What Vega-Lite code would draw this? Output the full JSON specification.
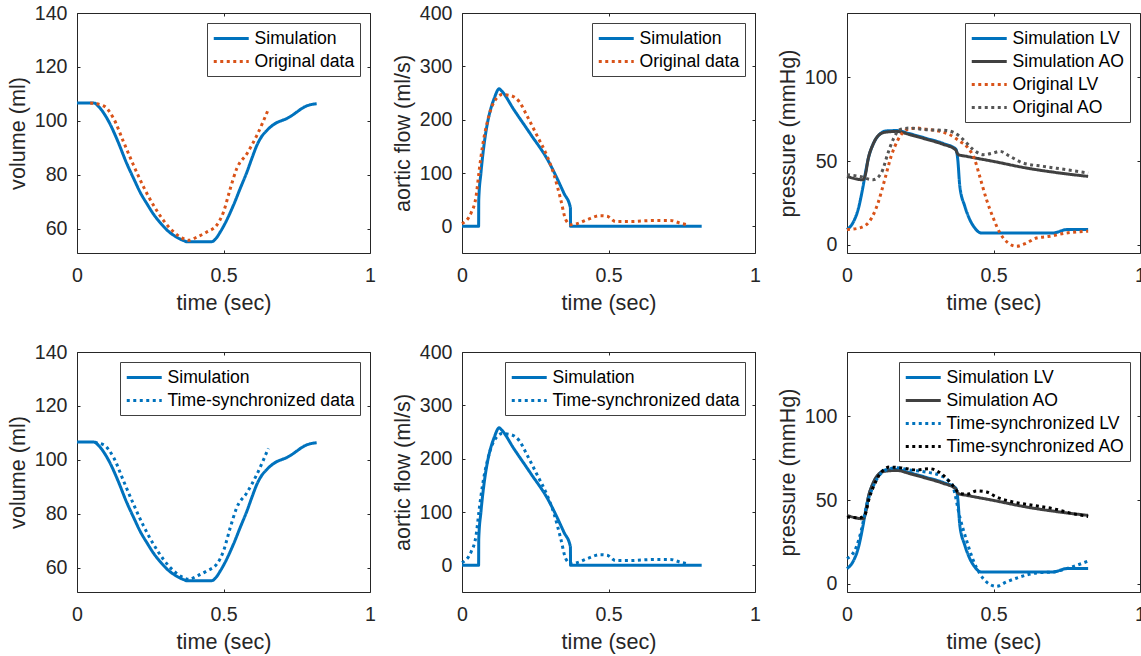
{
"$schema":"https://vega.github.io/schema/vega-lite/v6.json",
"background":"white",
"autosize":{"type":"pad"},
"padding":{"left":6,"top":2,"right":0,"bottom":0},
"columns":3,
"spacing":{"row":99,"column":92},
"bounds":"flush",
"datasets":{
"volume":[
{"t":0,"v":106.7,"s":"Simulation"},{"t":0.057,"v":106.7,"s":"Simulation"},{"t":0.075,"v":105.2,"s":"Simulation"},{"t":0.095,"v":102.3,"s":"Simulation"},{"t":0.114,"v":98.6,"s":"Simulation"},{"t":0.14,"v":92.3,"s":"Simulation"},{"t":0.17,"v":84.2,"s":"Simulation"},{"t":0.195,"v":78.3,"s":"Simulation"},{"t":0.216,"v":73.5,"s":"Simulation"},{"t":0.24,"v":69.1,"s":"Simulation"},{"t":0.261,"v":65.5,"s":"Simulation"},{"t":0.285,"v":62.2,"s":"Simulation"},{"t":0.307,"v":59.6,"s":"Simulation"},{"t":0.335,"v":57.3,"s":"Simulation"},{"t":0.364,"v":55.7,"s":"Simulation"},{"t":0.375,"v":55.3,"s":"Simulation"},{"t":0.46,"v":55.3,"s":"Simulation"},{"t":0.475,"v":56.6,"s":"Simulation"},{"t":0.489,"v":58.9,"s":"Simulation"},{"t":0.505,"v":62.0,"s":"Simulation"},{"t":0.534,"v":68.8,"s":"Simulation"},{"t":0.557,"v":75.0,"s":"Simulation"},{"t":0.58,"v":81.1,"s":"Simulation"},{"t":0.598,"v":86.5,"s":"Simulation"},{"t":0.614,"v":91.0,"s":"Simulation"},{"t":0.63,"v":94.2,"s":"Simulation"},{"t":0.648,"v":96.5,"s":"Simulation"},{"t":0.665,"v":98.2,"s":"Simulation"},{"t":0.682,"v":99.4,"s":"Simulation"},{"t":0.7,"v":100.2,"s":"Simulation"},{"t":0.716,"v":100.9,"s":"Simulation"},{"t":0.733,"v":102.0,"s":"Simulation"},{"t":0.75,"v":103.3,"s":"Simulation"},{"t":0.767,"v":104.6,"s":"Simulation"},{"t":0.784,"v":105.6,"s":"Simulation"},{"t":0.8,"v":106.1,"s":"Simulation"},{"t":0.818,"v":106.4,"s":"Simulation"},
{"t":0.045,"v":106.7,"s":"Original data"},{"t":0.091,"v":105.6,"s":"Original data"},{"t":0.125,"v":100.9,"s":"Original data"},{"t":0.159,"v":92.2,"s":"Original data"},{"t":0.193,"v":83.6,"s":"Original data"},{"t":0.227,"v":75.6,"s":"Original data"},{"t":0.261,"v":68.8,"s":"Original data"},{"t":0.295,"v":63.2,"s":"Original data"},{"t":0.33,"v":58.9,"s":"Original data"},{"t":0.358,"v":56.7,"s":"Original data"},{"t":0.381,"v":55.8,"s":"Original data"},{"t":0.409,"v":57.0,"s":"Original data"},{"t":0.443,"v":58.9,"s":"Original data"},{"t":0.477,"v":61.4,"s":"Original data"},{"t":0.5,"v":66.3,"s":"Original data"},{"t":0.523,"v":74.9,"s":"Original data"},{"t":0.545,"v":82.3,"s":"Original data"},{"t":0.58,"v":87.9,"s":"Original data"},{"t":0.614,"v":94.7,"s":"Original data"},{"t":0.653,"v":104.3,"s":"Original data"},
{"t":0.06,"v":106.5,"s":"Time-synchronized data"},{"t":0.091,"v":105.6,"s":"Time-synchronized data"},{"t":0.125,"v":100.9,"s":"Time-synchronized data"},{"t":0.159,"v":92.2,"s":"Time-synchronized data"},{"t":0.193,"v":83.6,"s":"Time-synchronized data"},{"t":0.227,"v":75.6,"s":"Time-synchronized data"},{"t":0.261,"v":68.8,"s":"Time-synchronized data"},{"t":0.295,"v":63.2,"s":"Time-synchronized data"},{"t":0.33,"v":58.9,"s":"Time-synchronized data"},{"t":0.358,"v":56.7,"s":"Time-synchronized data"},{"t":0.381,"v":55.8,"s":"Time-synchronized data"},{"t":0.409,"v":57.0,"s":"Time-synchronized data"},{"t":0.443,"v":58.9,"s":"Time-synchronized data"},{"t":0.477,"v":61.4,"s":"Time-synchronized data"},{"t":0.5,"v":66.3,"s":"Time-synchronized data"},{"t":0.523,"v":74.9,"s":"Time-synchronized data"},{"t":0.545,"v":82.3,"s":"Time-synchronized data"},{"t":0.58,"v":87.9,"s":"Time-synchronized data"},{"t":0.614,"v":94.7,"s":"Time-synchronized data"},{"t":0.653,"v":104.3,"s":"Time-synchronized data"}
],
"flow":[
{"t":0,"f":0,"s":"Simulation"},{"t":0.0567,"f":0,"s":"Simulation"},{"t":0.0572,"f":50,"s":"Simulation"},{"t":0.0646,"f":100,"s":"Simulation"},{"t":0.076,"f":156,"s":"Simulation"},{"t":0.087,"f":194,"s":"Simulation"},{"t":0.099,"f":222,"s":"Simulation"},{"t":0.11,"f":240,"s":"Simulation"},{"t":0.127,"f":258,"s":"Simulation"},{"t":0.135,"f":254,"s":"Simulation"},{"t":0.178,"f":218,"s":"Simulation"},{"t":0.235,"f":172,"s":"Simulation"},{"t":0.291,"f":126,"s":"Simulation"},{"t":0.348,"f":62,"s":"Simulation"},{"t":0.37,"f":35,"s":"Simulation"},{"t":0.3705,"f":0,"s":"Simulation"},{"t":0.818,"f":0,"s":"Simulation"},
{"t":0,"f":5,"s":"Original data"},{"t":0.031,"f":25,"s":"Original data"},{"t":0.048,"f":56,"s":"Original data"},{"t":0.059,"f":106,"s":"Original data"},{"t":0.07,"f":150,"s":"Original data"},{"t":0.087,"f":197,"s":"Original data"},{"t":0.11,"f":234,"s":"Original data"},{"t":0.138,"f":247,"s":"Original data"},{"t":0.167,"f":245,"s":"Original data"},{"t":0.195,"f":234,"s":"Original data"},{"t":0.223,"f":206,"s":"Original data"},{"t":0.257,"f":169,"s":"Original data"},{"t":0.291,"f":131,"s":"Original data"},{"t":0.314,"f":97,"s":"Original data"},{"t":0.337,"f":50,"s":"Original data"},{"t":0.354,"f":12.5,"s":"Original data"},{"t":0.371,"f":3,"s":"Original data"},{"t":0.393,"f":5,"s":"Original data"},{"t":0.427,"f":12.5,"s":"Original data"},{"t":0.473,"f":20,"s":"Original data"},{"t":0.495,"f":19,"s":"Original data"},{"t":0.524,"f":9,"s":"Original data"},{"t":0.575,"f":9,"s":"Original data"},{"t":0.654,"f":11,"s":"Original data"},{"t":0.711,"f":11,"s":"Original data"},{"t":0.745,"f":6,"s":"Original data"},{"t":0.773,"f":2.5,"s":"Original data"},
{"t":0,"f":5,"s":"Time-synchronized data"},{"t":0.031,"f":25,"s":"Time-synchronized data"},{"t":0.048,"f":56,"s":"Time-synchronized data"},{"t":0.059,"f":106,"s":"Time-synchronized data"},{"t":0.07,"f":150,"s":"Time-synchronized data"},{"t":0.087,"f":197,"s":"Time-synchronized data"},{"t":0.11,"f":234,"s":"Time-synchronized data"},{"t":0.138,"f":247,"s":"Time-synchronized data"},{"t":0.167,"f":245,"s":"Time-synchronized data"},{"t":0.195,"f":234,"s":"Time-synchronized data"},{"t":0.223,"f":206,"s":"Time-synchronized data"},{"t":0.257,"f":169,"s":"Time-synchronized data"},{"t":0.291,"f":131,"s":"Time-synchronized data"},{"t":0.314,"f":97,"s":"Time-synchronized data"},{"t":0.337,"f":50,"s":"Time-synchronized data"},{"t":0.354,"f":12.5,"s":"Time-synchronized data"},{"t":0.371,"f":3,"s":"Time-synchronized data"},{"t":0.393,"f":5,"s":"Time-synchronized data"},{"t":0.427,"f":12.5,"s":"Time-synchronized data"},{"t":0.473,"f":20,"s":"Time-synchronized data"},{"t":0.495,"f":19,"s":"Time-synchronized data"},{"t":0.524,"f":9,"s":"Time-synchronized data"},{"t":0.575,"f":9,"s":"Time-synchronized data"},{"t":0.654,"f":11,"s":"Time-synchronized data"},{"t":0.711,"f":11,"s":"Time-synchronized data"},{"t":0.745,"f":6,"s":"Time-synchronized data"},{"t":0.773,"f":2.5,"s":"Time-synchronized data"}
],
"pressure":[
{"t":0,"p":9,"s":"Simulation LV"},{"t":0.02,"p":13,"s":"Simulation LV"},{"t":0.038,"p":21,"s":"Simulation LV"},{"t":0.055,"p":35,"s":"Simulation LV"},{"t":0.063,"p":43,"s":"Simulation LV"},{"t":0.072,"p":51,"s":"Simulation LV"},{"t":0.089,"p":60,"s":"Simulation LV"},{"t":0.112,"p":66,"s":"Simulation LV"},{"t":0.134,"p":68,"s":"Simulation LV"},{"t":0.169,"p":68.2,"s":"Simulation LV"},{"t":0.214,"p":66.3,"s":"Simulation LV"},{"t":0.271,"p":63.5,"s":"Simulation LV"},{"t":0.328,"p":60.5,"s":"Simulation LV"},{"t":0.372,"p":57,"s":"Simulation LV"},{"t":0.378,"p":51,"s":"Simulation LV"},{"t":0.385,"p":35,"s":"Simulation LV"},{"t":0.402,"p":23,"s":"Simulation LV"},{"t":0.419,"p":15,"s":"Simulation LV"},{"t":0.436,"p":10,"s":"Simulation LV"},{"t":0.453,"p":7.2,"s":"Simulation LV"},{"t":0.46,"p":7,"s":"Simulation LV"},{"t":0.704,"p":7,"s":"Simulation LV"},{"t":0.75,"p":9,"s":"Simulation LV"},{"t":0.823,"p":9,"s":"Simulation LV"},
{"t":0,"p":40.8,"s":"Simulation AO"},{"t":0.055,"p":38.8,"s":"Simulation AO"},{"t":0.063,"p":42,"s":"Simulation AO"},{"t":0.072,"p":51,"s":"Simulation AO"},{"t":0.089,"p":60,"s":"Simulation AO"},{"t":0.112,"p":66,"s":"Simulation AO"},{"t":0.134,"p":67.3,"s":"Simulation AO"},{"t":0.169,"p":67.7,"s":"Simulation AO"},{"t":0.214,"p":65.8,"s":"Simulation AO"},{"t":0.271,"p":63,"s":"Simulation AO"},{"t":0.328,"p":60,"s":"Simulation AO"},{"t":0.37,"p":56.8,"s":"Simulation AO"},{"t":0.38,"p":53.8,"s":"Simulation AO"},{"t":0.408,"p":52.8,"s":"Simulation AO"},{"t":0.499,"p":49.8,"s":"Simulation AO"},{"t":0.613,"p":45.8,"s":"Simulation AO"},{"t":0.727,"p":42.8,"s":"Simulation AO"},{"t":0.823,"p":40.8,"s":"Simulation AO"},
{"t":0,"p":9,"s":"Original LV"},{"t":0.043,"p":10,"s":"Original LV"},{"t":0.077,"p":14,"s":"Original LV"},{"t":0.106,"p":25,"s":"Original LV"},{"t":0.129,"p":39,"s":"Original LV"},{"t":0.151,"p":53,"s":"Original LV"},{"t":0.174,"p":62.7,"s":"Original LV"},{"t":0.203,"p":68.7,"s":"Original LV"},{"t":0.237,"p":69.7,"s":"Original LV"},{"t":0.271,"p":69,"s":"Original LV"},{"t":0.317,"p":67.7,"s":"Original LV"},{"t":0.351,"p":65.7,"s":"Original LV"},{"t":0.385,"p":61.8,"s":"Original LV"},{"t":0.413,"p":57.8,"s":"Original LV"},{"t":0.436,"p":50.8,"s":"Original LV"},{"t":0.453,"p":40.8,"s":"Original LV"},{"t":0.476,"p":27,"s":"Original LV"},{"t":0.499,"p":16,"s":"Original LV"},{"t":0.522,"p":7,"s":"Original LV"},{"t":0.55,"p":1,"s":"Original LV"},{"t":0.579,"p":-1,"s":"Original LV"},{"t":0.613,"p":1,"s":"Original LV"},{"t":0.647,"p":4,"s":"Original LV"},{"t":0.692,"p":5,"s":"Original LV"},{"t":0.749,"p":7,"s":"Original LV"},{"t":0.823,"p":8,"s":"Original LV"},
{"t":0,"p":41.8,"s":"Original AO"},{"t":0.043,"p":40.8,"s":"Original AO"},{"t":0.089,"p":38.8,"s":"Original AO"},{"t":0.117,"p":42.8,"s":"Original AO"},{"t":0.14,"p":54.8,"s":"Original AO"},{"t":0.157,"p":62.7,"s":"Original AO"},{"t":0.18,"p":68.7,"s":"Original AO"},{"t":0.214,"p":69.7,"s":"Original AO"},{"t":0.271,"p":68.7,"s":"Original AO"},{"t":0.339,"p":68.3,"s":"Original AO"},{"t":0.385,"p":64.7,"s":"Original AO"},{"t":0.408,"p":60.8,"s":"Original AO"},{"t":0.431,"p":56.8,"s":"Original AO"},{"t":0.465,"p":53.8,"s":"Original AO"},{"t":0.499,"p":54.8,"s":"Original AO"},{"t":0.522,"p":55.8,"s":"Original AO"},{"t":0.556,"p":52.8,"s":"Original AO"},{"t":0.601,"p":48.8,"s":"Original AO"},{"t":0.67,"p":46.8,"s":"Original AO"},{"t":0.749,"p":44.8,"s":"Original AO"},{"t":0.823,"p":42.8,"s":"Original AO"},
{"t":0,"p":15,"s":"Time-synchronized LV"},{"t":0.032,"p":22,"s":"Time-synchronized LV"},{"t":0.049,"p":32,"s":"Time-synchronized LV"},{"t":0.066,"p":46,"s":"Time-synchronized LV"},{"t":0.089,"p":58,"s":"Time-synchronized LV"},{"t":0.112,"p":65,"s":"Time-synchronized LV"},{"t":0.134,"p":68,"s":"Time-synchronized LV"},{"t":0.169,"p":69.3,"s":"Time-synchronized LV"},{"t":0.214,"p":68,"s":"Time-synchronized LV"},{"t":0.271,"p":66.7,"s":"Time-synchronized LV"},{"t":0.317,"p":64.7,"s":"Time-synchronized LV"},{"t":0.345,"p":61.8,"s":"Time-synchronized LV"},{"t":0.362,"p":57.8,"s":"Time-synchronized LV"},{"t":0.385,"p":39.8,"s":"Time-synchronized LV"},{"t":0.408,"p":25.9,"s":"Time-synchronized LV"},{"t":0.431,"p":13.9,"s":"Time-synchronized LV"},{"t":0.453,"p":6,"s":"Time-synchronized LV"},{"t":0.476,"p":1,"s":"Time-synchronized LV"},{"t":0.51,"p":-1.6,"s":"Time-synchronized LV"},{"t":0.544,"p":1,"s":"Time-synchronized LV"},{"t":0.59,"p":4,"s":"Time-synchronized LV"},{"t":0.647,"p":6.4,"s":"Time-synchronized LV"},{"t":0.704,"p":7,"s":"Time-synchronized LV"},{"t":0.761,"p":9.6,"s":"Time-synchronized LV"},{"t":0.823,"p":13.5,"s":"Time-synchronized LV"},
{"t":0,"p":39.8,"s":"Time-synchronized AO"},{"t":0.043,"p":39.4,"s":"Time-synchronized AO"},{"t":0.06,"p":40.8,"s":"Time-synchronized AO"},{"t":0.077,"p":51.8,"s":"Time-synchronized AO"},{"t":0.095,"p":59.8,"s":"Time-synchronized AO"},{"t":0.117,"p":66.7,"s":"Time-synchronized AO"},{"t":0.146,"p":69.7,"s":"Time-synchronized AO"},{"t":0.18,"p":69.3,"s":"Time-synchronized AO"},{"t":0.237,"p":68,"s":"Time-synchronized AO"},{"t":0.282,"p":68.7,"s":"Time-synchronized AO"},{"t":0.322,"p":65.7,"s":"Time-synchronized AO"},{"t":0.356,"p":59.8,"s":"Time-synchronized AO"},{"t":0.379,"p":54.8,"s":"Time-synchronized AO"},{"t":0.408,"p":53.4,"s":"Time-synchronized AO"},{"t":0.442,"p":55.4,"s":"Time-synchronized AO"},{"t":0.476,"p":54.8,"s":"Time-synchronized AO"},{"t":0.51,"p":51.8,"s":"Time-synchronized AO"},{"t":0.567,"p":48.8,"s":"Time-synchronized AO"},{"t":0.636,"p":46.8,"s":"Time-synchronized AO"},{"t":0.704,"p":44.8,"s":"Time-synchronized AO"},{"t":0.772,"p":41.8,"s":"Time-synchronized AO"},{"t":0.823,"p":40.2,"s":"Time-synchronized AO"}
]
},
"concat":[
{"width":293,"height":240,"data":{"name":"volume"},"transform":[{"filter":{"field":"s","oneOf":["Simulation","Original data"]}}],
 "layer":[
  {"mark":{"type":"line","strokeWidth":3,"interpolate":"monotone"},
   "encoding":{
    "x":{"field":"t","type":"quantitative","scale":{"domain":[0,1],"nice":false},"axis":{"title":"time (sec)","values":[0,0.5,1],"format":"~g"}},
    "y":{"field":"v","type":"quantitative","scale":{"domain":[51.1,140],"nice":false,"zero":false},"axis":{"title":"volume (ml)","values":[60,80,100,120,140]}},
    "color":{"field":"s","type":"nominal","scale":{"domain":["Simulation","Original data"],"range":["#0072BD","#D95319"]},"legend":{"title":null}},
    "strokeDash":{"field":"s","type":"nominal","scale":{"domain":["Simulation","Original data"],"range":[[1,0],[3,3.5]]},"legend":{"title":null}}}},
  {"mark":{"type":"point","opacity":0},
   "encoding":{
    "x":{"field":"t","type":"quantitative","scale":{"domain":[0,1],"nice":false},"axis":{"orient":"top","title":null,"labels":false,"values":[0,0.5,1]}},
    "y":{"field":"v","type":"quantitative","scale":{"domain":[51.1,140],"nice":false,"zero":false},"axis":{"orient":"right","title":null,"labels":false,"values":[60,80,100,120,140]}}}}
 ],"resolve":{"axis":{"x":"independent","y":"independent"}}},
{"width":293,"height":240,"data":{"name":"flow"},"transform":[{"filter":{"field":"s","oneOf":["Simulation","Original data"]}}],
 "layer":[
  {"mark":{"type":"line","strokeWidth":3,"interpolate":"monotone"},
   "encoding":{
    "x":{"field":"t","type":"quantitative","scale":{"domain":[0,1],"nice":false},"axis":{"title":"time (sec)","values":[0,0.5,1],"format":"~g"}},
    "y":{"field":"f","type":"quantitative","scale":{"domain":[-50,400],"nice":false,"zero":false},"axis":{"title":"aortic flow (ml/s)","values":[0,100,200,300,400]}},
    "color":{"field":"s","type":"nominal","scale":{"domain":["Simulation","Original data"],"range":["#0072BD","#D95319"]},"legend":{"title":null}},
    "strokeDash":{"field":"s","type":"nominal","scale":{"domain":["Simulation","Original data"],"range":[[1,0],[3,3.5]]},"legend":{"title":null}}}},
  {"mark":{"type":"point","opacity":0},
   "encoding":{
    "x":{"field":"t","type":"quantitative","scale":{"domain":[0,1],"nice":false},"axis":{"orient":"top","title":null,"labels":false,"values":[0,0.5,1]}},
    "y":{"field":"f","type":"quantitative","scale":{"domain":[-50,400],"nice":false,"zero":false},"axis":{"orient":"right","title":null,"labels":false,"values":[0,100,200,300,400]}}}}
 ],"resolve":{"axis":{"x":"independent","y":"independent"}}},
{"width":293,"height":240,"data":{"name":"pressure"},"transform":[{"filter":{"field":"s","oneOf":["Simulation LV","Simulation AO","Original LV","Original AO"]}}],
 "layer":[
  {"mark":{"type":"line","strokeWidth":3,"interpolate":"monotone"},
   "encoding":{
    "x":{"field":"t","type":"quantitative","scale":{"domain":[0,1],"nice":false},"axis":{"title":"time (sec)","values":[0,0.5,1],"format":"~g"}},
    "y":{"field":"p","type":"quantitative","scale":{"domain":[-5,138.5],"nice":false,"zero":false},"axis":{"title":"pressure (mmHg)","values":[0,50,100]}},
    "color":{"field":"s","type":"nominal","scale":{"domain":["Simulation LV","Simulation AO","Original LV","Original AO"],"range":["#0072BD","#404040","#D95319","#555555"]},"legend":{"title":null}},
    "strokeDash":{"field":"s","type":"nominal","scale":{"domain":["Simulation LV","Simulation AO","Original LV","Original AO"],"range":[[1,0],[1,0],[3,3.5],[3,3.5]]},"legend":{"title":null}}}},
  {"mark":{"type":"point","opacity":0},
   "encoding":{
    "x":{"field":"t","type":"quantitative","scale":{"domain":[0,1],"nice":false},"axis":{"orient":"top","title":null,"labels":false,"values":[0,0.5,1]}},
    "y":{"field":"p","type":"quantitative","scale":{"domain":[-5,138.5],"nice":false,"zero":false},"axis":{"orient":"right","title":null,"labels":false,"values":[0,50,100]}}}}
 ],"resolve":{"axis":{"x":"independent","y":"independent"}}},
{"width":293,"height":240,"data":{"name":"volume"},"transform":[{"filter":{"field":"s","oneOf":["Simulation","Time-synchronized data"]}}],
 "layer":[
  {"mark":{"type":"line","strokeWidth":3,"interpolate":"monotone"},
   "encoding":{
    "x":{"field":"t","type":"quantitative","scale":{"domain":[0,1],"nice":false},"axis":{"title":"time (sec)","values":[0,0.5,1],"format":"~g"}},
    "y":{"field":"v","type":"quantitative","scale":{"domain":[51.1,140],"nice":false,"zero":false},"axis":{"title":"volume (ml)","values":[60,80,100,120,140]}},
    "color":{"field":"s","type":"nominal","scale":{"domain":["Simulation","Time-synchronized data"],"range":["#0072BD","#0072BD"]},"legend":{"title":null}},
    "strokeDash":{"field":"s","type":"nominal","scale":{"domain":["Simulation","Time-synchronized data"],"range":[[1,0],[3,3.5]]},"legend":{"title":null}}}},
  {"mark":{"type":"point","opacity":0},
   "encoding":{
    "x":{"field":"t","type":"quantitative","scale":{"domain":[0,1],"nice":false},"axis":{"orient":"top","title":null,"labels":false,"values":[0,0.5,1]}},
    "y":{"field":"v","type":"quantitative","scale":{"domain":[51.1,140],"nice":false,"zero":false},"axis":{"orient":"right","title":null,"labels":false,"values":[60,80,100,120,140]}}}}
 ],"resolve":{"axis":{"x":"independent","y":"independent"}}},
{"width":293,"height":240,"data":{"name":"flow"},"transform":[{"filter":{"field":"s","oneOf":["Simulation","Time-synchronized data"]}}],
 "layer":[
  {"mark":{"type":"line","strokeWidth":3,"interpolate":"monotone"},
   "encoding":{
    "x":{"field":"t","type":"quantitative","scale":{"domain":[0,1],"nice":false},"axis":{"title":"time (sec)","values":[0,0.5,1],"format":"~g"}},
    "y":{"field":"f","type":"quantitative","scale":{"domain":[-50,400],"nice":false,"zero":false},"axis":{"title":"aortic flow (ml/s)","values":[0,100,200,300,400]}},
    "color":{"field":"s","type":"nominal","scale":{"domain":["Simulation","Time-synchronized data"],"range":["#0072BD","#0072BD"]},"legend":{"title":null}},
    "strokeDash":{"field":"s","type":"nominal","scale":{"domain":["Simulation","Time-synchronized data"],"range":[[1,0],[3,3.5]]},"legend":{"title":null}}}},
  {"mark":{"type":"point","opacity":0},
   "encoding":{
    "x":{"field":"t","type":"quantitative","scale":{"domain":[0,1],"nice":false},"axis":{"orient":"top","title":null,"labels":false,"values":[0,0.5,1]}},
    "y":{"field":"f","type":"quantitative","scale":{"domain":[-50,400],"nice":false,"zero":false},"axis":{"orient":"right","title":null,"labels":false,"values":[0,100,200,300,400]}}}}
 ],"resolve":{"axis":{"x":"independent","y":"independent"}}},
{"width":293,"height":240,"data":{"name":"pressure"},"transform":[{"filter":{"field":"s","oneOf":["Simulation LV","Simulation AO","Time-synchronized LV","Time-synchronized AO"]}}],
 "layer":[
  {"mark":{"type":"line","strokeWidth":3,"interpolate":"monotone"},
   "encoding":{
    "x":{"field":"t","type":"quantitative","scale":{"domain":[0,1],"nice":false},"axis":{"title":"time (sec)","values":[0,0.5,1],"format":"~g"}},
    "y":{"field":"p","type":"quantitative","scale":{"domain":[-5,138.5],"nice":false,"zero":false},"axis":{"title":"pressure (mmHg)","values":[0,50,100]}},
    "color":{"field":"s","type":"nominal","scale":{"domain":["Simulation LV","Simulation AO","Time-synchronized LV","Time-synchronized AO"],"range":["#0072BD","#404040","#0072BD","#000000"]},"legend":{"title":null}},
    "strokeDash":{"field":"s","type":"nominal","scale":{"domain":["Simulation LV","Simulation AO","Time-synchronized LV","Time-synchronized AO"],"range":[[1,0],[1,0],[3,3.5],[3,3.5]]},"legend":{"title":null}}}},
  {"mark":{"type":"point","opacity":0},
   "encoding":{
    "x":{"field":"t","type":"quantitative","scale":{"domain":[0,1],"nice":false},"axis":{"orient":"top","title":null,"labels":false,"values":[0,0.5,1]}},
    "y":{"field":"p","type":"quantitative","scale":{"domain":[-5,138.5],"nice":false,"zero":false},"axis":{"orient":"right","title":null,"labels":false,"values":[0,50,100]}}}}
 ],"resolve":{"axis":{"x":"independent","y":"independent"}}}
],
"resolve":{"scale":{"color":"independent","strokeDash":"independent","x":"independent","y":"independent"},"legend":{"color":"independent","strokeDash":"independent"}},
"config":{
 "view":{"stroke":"#262626","strokeWidth":1},
 "axis":{"domain":false,"grid":false,"tickSize":-3,"tickColor":"#262626","tickWidth":1,"labelFlush":false,"labelColor":"#262626","labelFont":"Liberation Sans","labelFontSize":19.6,"titleFont":"Liberation Sans","titleFontSize":21.6,"titleFontWeight":"normal","titleColor":"#262626"},
 "axisX":{"labelPadding":16.5,"titlePadding":7},
 "axisY":{"labelPadding":13,"titlePadding":5},
 "legend":{"orient":"top-right","offset":10,"fillColor":"white","strokeColor":"#404040","strokeWidth":1,"padding":5,"labelFont":"Liberation Sans","labelFontSize":17.6,"labelColor":"#000000","labelLimit":400,"symbolType":"M-1,0H3","symbolSize":306,"symbolStrokeWidth":3,"labelOffset":21.5,"rowPadding":3}
}
}
